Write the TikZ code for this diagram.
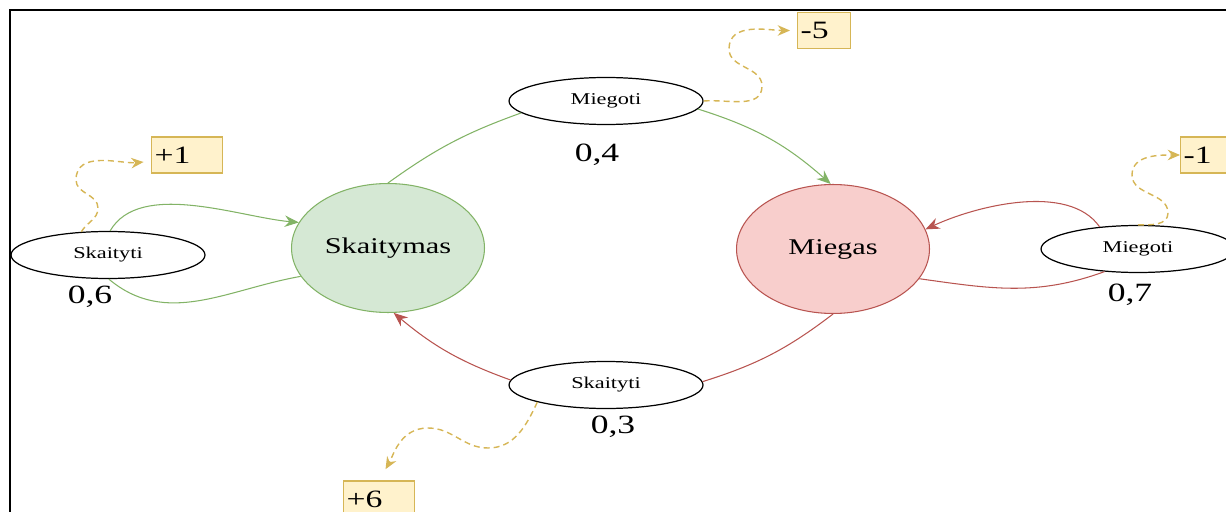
\documentclass[tikz,border=0pt]{standalone}
\usepackage{fontspec}
\setmainfont[FakeStretch=1.35]{Liberation Serif}
\usepackage{tikz}
\usetikzlibrary{arrows.meta,shapes.geometric}
\definecolor{gline}{HTML}{82B366}
\definecolor{gfill}{HTML}{D5E8D4}
\definecolor{rline}{HTML}{B85450}
\definecolor{rfill}{HTML}{F8CECC}
\definecolor{yline}{HTML}{D6B656}
\definecolor{yfill}{HTML}{FFF2CC}

\begin{document}
\begin{tikzpicture}[x=0.02cm,y=0.02cm,>={Stealth[length=8pt,width=6.5pt]},
  state/.style={ellipse,draw,line width=0.6pt,inner sep=0pt,minimum width=3.86cm,minimum height=2.58cm,font=\fontsize{12.8}{14}\selectfont},
  act/.style={ellipse,draw=black,line width=0.7pt,fill=white,inner sep=0pt,minimum width=3.88cm,minimum height=0.94cm,font=\fontsize{9.4}{11}\selectfont},
  prob/.style={inner sep=0pt,font=\fontsize{15}{17}\selectfont},
  rew/.style={rectangle,draw=yline,fill=yfill,line width=0.6pt,anchor=west,minimum height=0.72cm,text width=1.3cm,inner xsep=0.06cm,align=left,font=\fontsize{14.2}{16}\selectfont},
  rarrow/.style={yline,dash pattern=on 3.4pt off 2.3pt,line width=0.8pt,-{Stealth[length=7pt,width=6pt]}}]
\clip (0,0) rectangle (1226,511);
\draw[line width=1.5pt] (10,-10) -- (10,501) -- (1240,501);

\node[state,draw=gline,fill=gfill] (sk) at (388,263) {Skaitymas};
\node[state,draw=rline,fill=rfill] (mg) at (833,262) {Miegas};
\node[act] (mt) at (606,410) {Miegoti};
\node[act] (sb) at (606,126) {Skaityti};
\node[act] (sl) at (108,256) {Skaityti};
\node[act] (mr) at (1138,262) {Miegoti};

\node[prob] (p04) at (597,356) {0,4};
\node[prob] (p06) at (90,214) {0,6};
\node[prob] (p07) at (1130,216) {0,7};
\node[prob] (p03) at (613,84) {0,3};

\node[rew] (r1) at (151,356) {+1};
\node[rew,text width=0.94cm] (r5) at (797,480.5) {-5};
\node[rew] (rm1) at (1180,356) {-1};
\node[rew] (r6) at (343,12) {+6};

% sleeping and reading moves
\path[gline,line width=0.6pt] (sk.north) edge[bend left=8] (mt.188);
\path[->,gline,line width=0.6pt] (mt.355) edge[bend left=12] (mg.92);
\path[rline,line width=0.6pt] (mg.south) edge[bend left=10] (sb.2);
\path[->,rline,line width=0.6pt] (sb.177) edge[bend left=10] (sk.-85);

% loops
\draw[->,gline,line width=0.6pt] (sl.85) to[out=60,in=175,looseness=0.8] (sk.164);
\draw[gline,line width=0.6pt] (sk.198) to[out=190,in=-40] (sl.-88);
\draw[rline,line width=0.6pt] (mg.-19) to[out=-8,in=200] (mr.214);
\draw[->,rline,line width=0.6pt] (mr.150) to[out=125,in=25,looseness=0.8] (mg.12);

% rewards
\draw[rarrow,shorten >=0.15cm] (sl.139) to[out=60,in=-90] (98,303) to[out=90,in=-90] (76,331) to[out=90,in=185] (r1.190);
\draw[rarrow,shorten >=0.14cm] (mt.east) to[out=5,in=-90] (762,425) to[out=90,in=-90] (729,462) to[out=90,in=180] (r5.west);
\draw[rarrow] (mr.north) to[out=0,in=-90] (1168,298) to[out=90,in=-90] (1132,336) to[out=90,in=180] (rm1.west);
\draw[rarrow,shorten >=0.26cm] (sb.194) to[out=-115,in=0] (488,63) to[out=180,in=0] (428,83) to[out=180,in=60] (r6.north);

\end{tikzpicture}
\end{document}
